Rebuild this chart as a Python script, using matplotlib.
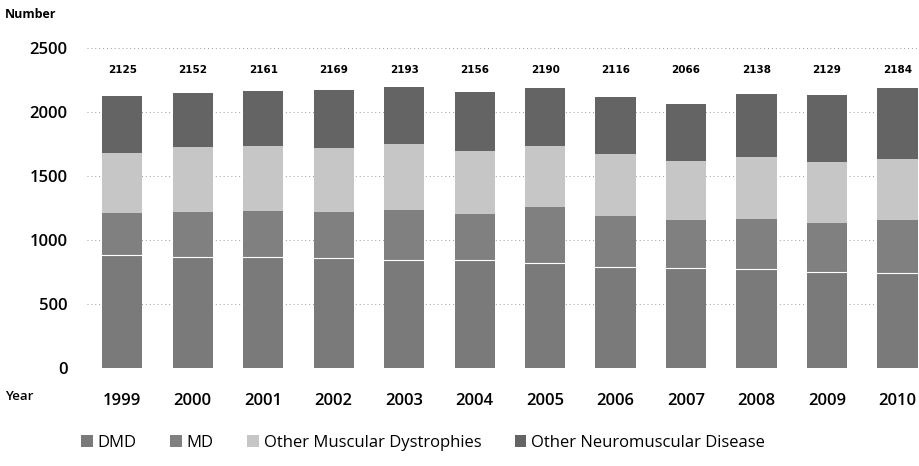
import numpy as np
import matplotlib
matplotlib.use("Agg")
import matplotlib.pyplot as plt

years = ["1999", "2000", "2001", "2002", "2003", "2004",
         "2005", "2006", "2007", "2008", "2009", "2010"]
totals = [2125, 2152, 2161, 2169, 2193, 2156, 2190, 2116, 2066, 2138, 2129, 2184]
dmd = [880, 870, 870, 860, 844, 840, 820, 787, 780, 770, 750, 740]
md = [329, 351, 359, 359, 390, 361, 435, 401, 374, 392, 385, 414]
other_md = [473, 508, 508, 497, 516, 494, 482, 486, 461, 484, 474, 476]
other_nmd = [443, 423, 424, 453, 443, 461, 453, 442, 451, 492, 520, 554]

series = [
    ("DMD", dmd, "#7a7a7a"),
    ("MD", md, "#808080"),
    ("Other Muscular Dystrophies", other_md, "#c6c6c6"),
    ("Other Neuromuscular Disease", other_nmd, "#646464"),
]

plt.rcParams["font.family"] = ["Open Sans", "DejaVu Sans"]

fig = plt.figure(figsize=(9.2, 4.66), dpi=100)
ax = fig.add_axes([87 / 920, 98 / 466, 833 / 920, 320 / 466])

x = np.arange(len(years))
bottom = np.zeros(len(years))
handles = []
for name, vals, color in series:
    b = ax.bar(x, vals, width=0.57, bottom=bottom, color=color,
               edgecolor="none", label=name, zorder=2)
    handles.append(b)
    bottom += np.array(vals)

# thin white seam between DMD and MD
for xi, d in zip(x, dmd):
    ax.plot([xi - 0.285, xi + 0.285], [d, d], color="white", lw=0.8, zorder=3)

# totals printed in a row above the bars
for xi, t in zip(x, totals):
    ax.text(xi, 2330, str(t), ha="center", va="center", fontsize=7.5,
            fontweight="bold", family=["DejaVu Sans"])

ax.set_xlim(-0.5, 11.32)
ax.set_ylim(0, 2500)
ax.set_yticks([0, 500, 1000, 1500, 2000, 2500])
ax.set_xticks(x)
ax.set_xticklabels(years)
ax.tick_params(axis="both", length=0, labelsize=12)
ax.tick_params(axis="y", pad=14)
ax.tick_params(axis="x", pad=18)
for lbl in ax.get_yticklabels() + ax.get_xticklabels():
    lbl.set_fontweight("semibold")

ax.grid(axis="y", color="#9a9a9a", linestyle=(0, (1, 3)), linewidth=0.7, zorder=0)
for s in ax.spines.values():
    s.set_visible(False)

fig.text(5 / 920, 1 - 14 / 466, "Number", fontsize=9, fontweight="bold",
         va="center", ha="left")
fig.text(5 / 920, 1 - 397 / 466, "Year", fontsize=9.5, fontweight="semibold",
         va="center", ha="left")

fig.legend(handles=handles, loc="center", bbox_to_anchor=(0.46, 1 - 443 / 466),
           ncol=4, frameon=False, fontsize=12, handlelength=0.7,
           handleheight=0.7, handletextpad=0.3, columnspacing=2.0)

fig.savefig("out.png", dpi=100)
